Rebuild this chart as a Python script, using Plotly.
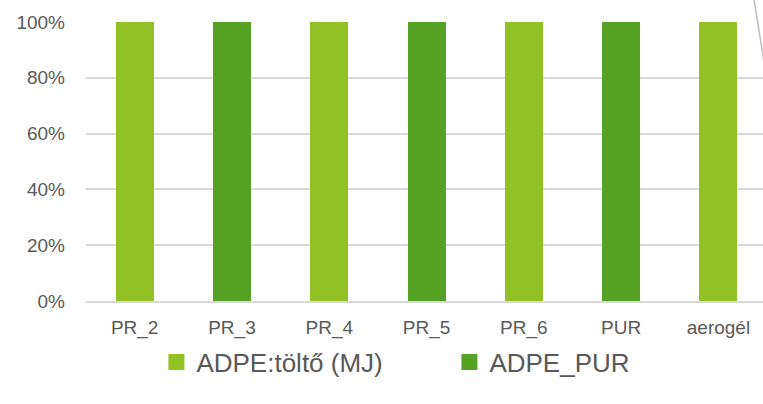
import plotly.graph_objects as go

categories = ["PR_2", "PR_3", "PR_4", "PR_5", "PR_6", "PUR", "aerogél"]
adpe_tolto = [100, 0, 100, 0, 100, 0, 100]
adpe_pur = [0, 100, 0, 100, 0, 100, 0]
y_ticks = [0, 20, 40, 60, 80, 100]
y_tick_labels = [f"{v}%" for v in y_ticks]

LIGHT = "#92C125"
DARK = "#55A124"
TEXT = "#595959"
FONT = "Liberation Sans"

fig = go.Figure()
for name, vals, col in [("ADPE:töltő (MJ)", adpe_tolto, LIGHT),
                        ("ADPE_PUR", adpe_pur, DARK)]:
    fig.add_trace(go.Bar(x=categories, y=vals, name=name, marker_color=col,
                         marker_line_width=0, showlegend=False, width=0.39))
    # legend entry with a larger square swatch
    fig.add_trace(go.Scatter(x=[None], y=[None], mode="markers", name=name,
                             marker=dict(symbol="square", size=17, color=col)))

fig.update_layout(
    barmode="stack",
    width=763, height=404,
    margin=dict(l=86, r=0, t=22, b=103),
    plot_bgcolor="white", paper_bgcolor="white",
    font=dict(family=FONT, color=TEXT, size=19),
    legend=dict(orientation="h", x=0.104, xanchor="left", y=-0.135, yanchor="top",
                font=dict(size=26, color=TEXT), itemsizing="trace",
                traceorder="normal", entrywidth=248, entrywidthmode="pixels"),
    xaxis=dict(range=[-0.5, 6.458], showgrid=False, showline=True,
               linecolor="#D9D9D9", linewidth=2, ticks="", ticklabelstandoff=8,
               tickfont=dict(size=19)),
    yaxis=dict(range=[0, 100], tickmode="array", tickvals=y_ticks,
               ticktext=y_tick_labels, showgrid=True,
               gridcolor="#D9D9D9", gridwidth=1.5, zeroline=False, showline=False,
               ticks="", ticklabelstandoff=20, tickfont=dict(size=19)),
    shapes=[dict(type="line", xref="paper", yref="paper",
                 x0=0.9867, y0=1.08, x1=1.002, y1=0.85,
                 line=dict(color="#BFBFBF", width=1.5))],
)

fig.write_html("out.html")
